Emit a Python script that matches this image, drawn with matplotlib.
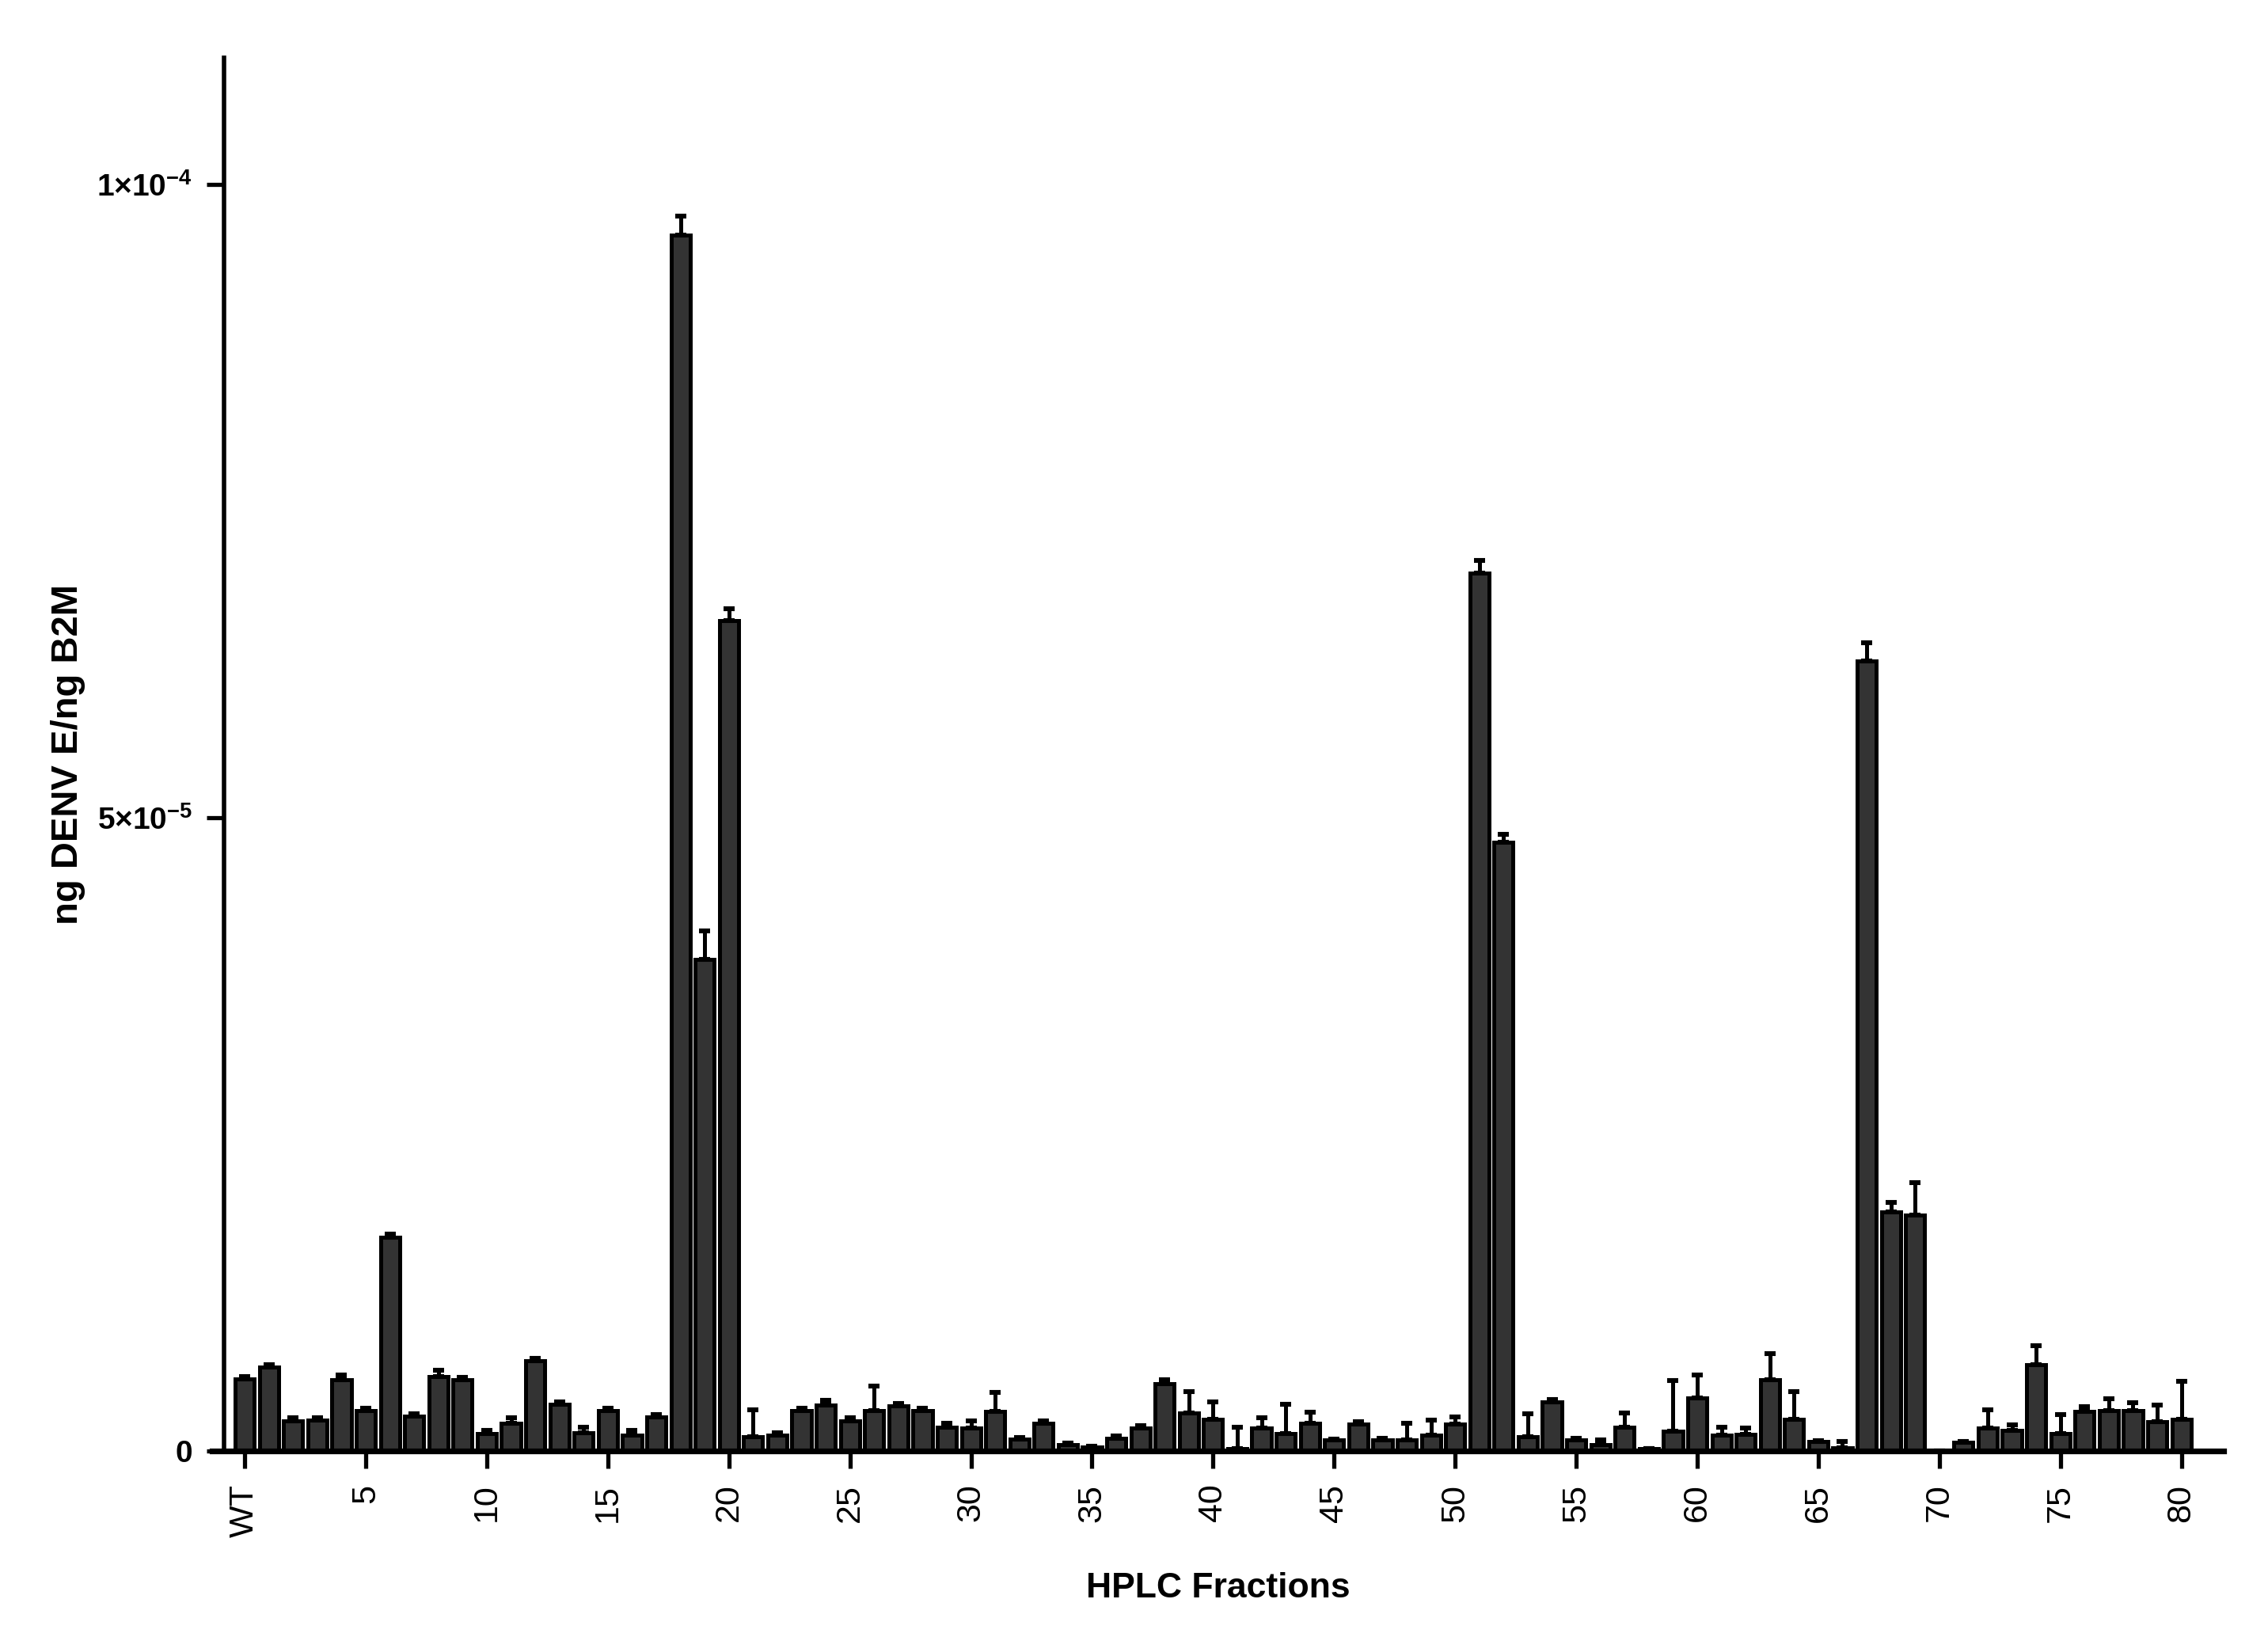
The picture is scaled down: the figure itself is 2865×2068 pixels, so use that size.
import numpy as np
import matplotlib
matplotlib.use("Agg")
import matplotlib.pyplot as plt

plt.rcParams["font.family"] = ["Liberation Sans", "DejaVu Sans"]
plt.rcParams["mathtext.fontset"] = "custom"
plt.rcParams["mathtext.rm"] = "Liberation Sans"
plt.rcParams["mathtext.bf"] = "Liberation Sans:bold"

# fractions: WT, 1..80 ; values in units of 1e-5 ng DENV E / ng B2M
labels = ["WT"] + [str(i) for i in range(1, 81)]

means = [
    0.57,                                              # WT
    0.66, 0.24, 0.245, 0.56, 0.32, 1.69, 0.275, 0.59, 0.56, 0.14,   # 1-10
    0.22, 0.71, 0.37, 0.145, 0.32, 0.125, 0.27, 9.60, 3.88, 6.56,   # 11-20
    0.115, 0.125, 0.32, 0.365, 0.24, 0.32, 0.355, 0.32, 0.19, 0.18, # 21-30
    0.31, 0.095, 0.22, 0.05, 0.03, 0.10, 0.18, 0.53, 0.30, 0.25,    # 31-40
    0.02, 0.18, 0.135, 0.22, 0.085, 0.21, 0.09, 0.09, 0.125, 0.21,  # 41-50
    6.93, 4.81, 0.115, 0.385, 0.09, 0.05, 0.19, 0.02, 0.155, 0.42,  # 51-60
    0.125, 0.13, 0.56, 0.25, 0.073, 0.025, 6.24, 1.885, 1.86, 0.0,  # 61-70
    0.067, 0.18, 0.165, 0.68, 0.14, 0.31, 0.32, 0.32, 0.23, 0.25,   # 71-80
]

errs = [
    0.02,
    0.02, 0.02, 0.02, 0.04, 0.02, 0.02, 0.02, 0.05, 0.02, 0.02,
    0.04, 0.02, 0.02, 0.04, 0.02, 0.04, 0.02, 0.15, 0.23, 0.09,
    0.21, 0.02, 0.02, 0.035, 0.02, 0.195, 0.02, 0.02, 0.03, 0.055,
    0.155, 0.01, 0.02, 0.01, 0.01, 0.02, 0.02, 0.035, 0.17, 0.14,
    0.17, 0.08, 0.235, 0.085, 0.01, 0.02, 0.01, 0.13, 0.12, 0.06,
    0.10, 0.06, 0.18, 0.02, 0.01, 0.04, 0.11, 0.0, 0.40, 0.18,
    0.065, 0.05, 0.21, 0.22, 0.01, 0.05, 0.14, 0.08, 0.26, 0.0,
    0.01, 0.145, 0.04, 0.15, 0.145, 0.04, 0.09, 0.06, 0.13, 0.30,
]

x = np.arange(len(labels))
y = np.array(means) * 1e-5
e = np.array(errs) * 1e-5

fig = plt.figure(figsize=(14.325, 10.34), dpi=200)
ax = fig.add_axes([0.0935, 0.1136, 0.887, 0.851])

ax.bar(x, y, width=0.79, color="#333333", edgecolor="black", linewidth=1.8, zorder=2)
ax.errorbar(x, y, yerr=[np.zeros_like(e), e], fmt="none", ecolor="black",
            elinewidth=1.8, capsize=2.6, capthick=2.2, zorder=3)

ax.set_xlim(-1.35, 81.75)
ax.set_ylim(0, 1.1e-4)

ax.spines["top"].set_visible(False)
ax.spines["right"].set_visible(False)
ax.spines["left"].set_position(("data", -0.85))
ax.spines["left"].set_linewidth(2.0)
ax.spines["bottom"].set_linewidth(2.6)

ax.set_yticks([0, 5e-5, 1e-4])
ax.set_yticklabels(["0", r"$\mathbf{5{\times}10^{-5}}$", r"$\mathbf{1{\times}10^{-4}}$"],
                   fontsize=14, fontweight="bold")
ticks = [0] + list(range(5, 81, 5))
ax.set_xticks(ticks)
ax.set_xticklabels([labels[t] for t in ticks], rotation=90, fontsize=15.5)
ax.tick_params(axis="both", direction="out", length=8, width=1.9, colors="black")
ax.tick_params(axis="x", pad=7)
ax.tick_params(axis="y", pad=6.5)

ax.set_xlabel("HPLC Fractions", fontsize=16, fontweight="bold", labelpad=16)
ax.set_ylabel("ng DENV E/ng B2M", fontsize=17, fontweight="bold", labelpad=5)

fig.savefig("out.png", dpi=200)
